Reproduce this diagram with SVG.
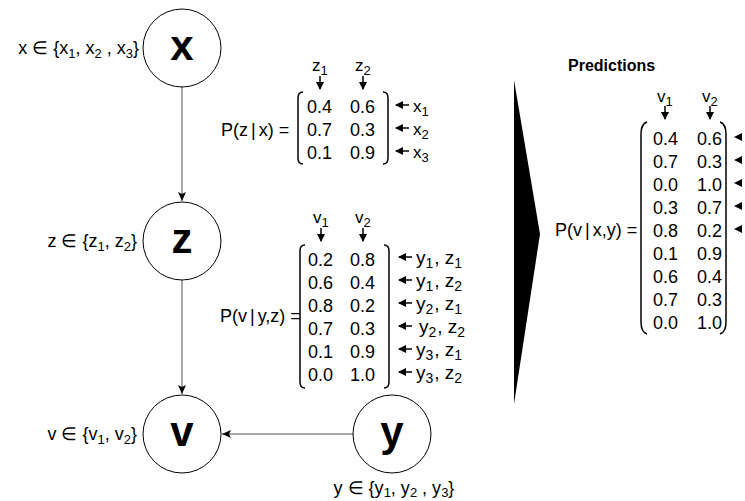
<svg xmlns="http://www.w3.org/2000/svg" width="745" height="501" viewBox="0 0 745 501">
<style>
text{font-family:"Liberation Sans",Arial,sans-serif;fill:#000}
.node{fill:#fff;stroke:#000;stroke-width:1}
.big{font-size:42px;font-weight:bold;text-anchor:middle}
.lbl{font-size:18px}
.yl{font-size:19px}
.hl{font-size:17px}
.num{font-size:18px}
.sub{font-size:13px}
.sub2{font-size:14px}
.br{fill:none;stroke:#000;stroke-width:1.5}
.conn{stroke:#555;stroke-width:1;fill:none}
.sm{stroke:#000;stroke-width:1.5;fill:none}
.title{font-size:16px;font-weight:bold}
</style>
<defs>
<marker id="ah" markerWidth="10" markerHeight="10" refX="9" refY="4" orient="auto" markerUnits="userSpaceOnUse">
<path d="M0,0 L9,4 L0,8 L2,4 Z" fill="#000"/>
</marker>
<marker id="sa" markerWidth="9" markerHeight="9" refX="7" refY="4" orient="auto" markerUnits="userSpaceOnUse">
<path d="M0,0 L8,4 L0,8 Z" fill="#000"/>
</marker>
</defs>

<g id="connectors">
<line class="conn" x1="182" y1="87" x2="182" y2="201" marker-end="url(#ah)"/>
<line class="conn" x1="182" y1="280" x2="182" y2="394" marker-end="url(#ah)"/>
<line class="conn" x1="353" y1="434" x2="222" y2="434" marker-end="url(#ah)"/>
</g>

<g id="node-x">
<circle class="node" cx="182" cy="48" r="39"/>
<text class="big" x="182" y="60">x</text>
<text class="lbl" x="139" y="54" text-anchor="end">x ∈ {x<tspan class="sub" dy="4">1</tspan><tspan dy="-4">, x</tspan><tspan class="sub" dy="4">2</tspan><tspan dy="-4"> , x</tspan><tspan class="sub" dy="4">3</tspan><tspan dy="-4">}</tspan></text>
</g>

<g id="node-z">
<circle class="node" cx="182" cy="241" r="39"/>
<text class="big" x="182" y="253">z</text>
<text class="lbl" x="137" y="247" text-anchor="end">z ∈ {z<tspan class="sub" dy="4">1</tspan><tspan dy="-4">, z</tspan><tspan class="sub" dy="4">2</tspan><tspan dy="-4">}</tspan></text>
</g>

<g id="node-v">
<circle class="node" cx="182" cy="434" r="39"/>
<text class="big" x="182" y="446">v</text>
<text class="lbl" x="137" y="440" text-anchor="end">v ∈ {v<tspan class="sub" dy="4">1</tspan><tspan dy="-4">, v</tspan><tspan class="sub" dy="4">2</tspan><tspan dy="-4">}</tspan></text>
</g>

<g id="node-y">
<circle class="node" cx="392" cy="434" r="39"/>
<text class="big" x="392" y="446">y</text>
<text class="lbl" x="394" y="494" text-anchor="middle">y ∈ {y<tspan class="sub" dy="3">1</tspan><tspan dy="-3">, y</tspan><tspan class="sub" dy="3">2</tspan><tspan dy="-3"> , y</tspan><tspan class="sub" dy="3">3</tspan><tspan dy="-3">}</tspan></text>
</g>

<g id="cpt-zx">
<text class="hl" x="312" y="71">z<tspan class="sub" dy="4">1</tspan></text>
<text class="hl" x="355" y="71">z<tspan class="sub" dy="4">2</tspan></text>
<line class="sm" x1="320" y1="76" x2="320" y2="89" marker-end="url(#sa)"/>
<line class="sm" x1="363" y1="76" x2="363" y2="89" marker-end="url(#sa)"/>
<text class="num" x="221" y="136">P(z<tspan dx="3">|</tspan><tspan dx="3">x) =</tspan></text>
<path class="br" d="M303,92 Q298,92 298,98 L298,158 Q298,164 303,164"/>
<path class="br" d="M383,92 Q388,92 388,98 L388,158 Q388,164 383,164"/>
<text class="num" x="307" y="113">0.4</text><text class="num" x="350" y="113">0.6</text>
<text class="num" x="307" y="136">0.7</text><text class="num" x="350" y="136">0.3</text>
<text class="num" x="307" y="159">0.1</text><text class="num" x="350" y="159">0.9</text>
<line class="sm" x1="409" y1="105" x2="396" y2="105" marker-end="url(#sa)"/>
<line class="sm" x1="409" y1="128" x2="396" y2="128" marker-end="url(#sa)"/>
<line class="sm" x1="409" y1="151" x2="396" y2="151" marker-end="url(#sa)"/>
<text class="hl" x="413" y="112">x<tspan class="sub" dy="4">1</tspan></text>
<text class="hl" x="413" y="135">x<tspan class="sub" dy="4">2</tspan></text>
<text class="hl" x="413" y="158">x<tspan class="sub" dy="4">3</tspan></text>
</g>

<g id="cpt-vyz">
<text class="hl" x="313" y="223">v<tspan class="sub" dy="4">1</tspan></text>
<text class="hl" x="355" y="223">v<tspan class="sub" dy="4">2</tspan></text>
<line class="sm" x1="321" y1="228" x2="321" y2="241" marker-end="url(#sa)"/>
<line class="sm" x1="363" y1="228" x2="363" y2="241" marker-end="url(#sa)"/>
<text class="num" x="220" y="322">P(v<tspan dx="3">|</tspan><tspan dx="3">y,z) =</tspan></text>
<path class="br" d="M305,245 Q300,245 300,251 L300,382 Q300,388 305,388"/>
<path class="br" d="M384,245 Q389,245 389,251 L389,382 Q389,388 384,388"/>
<text class="num" x="308" y="266">0.2</text><text class="num" x="350" y="266">0.8</text>
<text class="num" x="308" y="289">0.6</text><text class="num" x="350" y="289">0.4</text>
<text class="num" x="308" y="312">0.8</text><text class="num" x="350" y="312">0.2</text>
<text class="num" x="308" y="335">0.7</text><text class="num" x="350" y="335">0.3</text>
<text class="num" x="308" y="358">0.1</text><text class="num" x="350" y="358">0.9</text>
<text class="num" x="308" y="381">0.0</text><text class="num" x="350" y="381">1.0</text>
<line class="sm" x1="412" y1="257" x2="399" y2="257" marker-end="url(#sa)"/>
<line class="sm" x1="412" y1="280" x2="399" y2="280" marker-end="url(#sa)"/>
<line class="sm" x1="412" y1="303" x2="399" y2="303" marker-end="url(#sa)"/>
<line class="sm" x1="412" y1="326" x2="399" y2="326" marker-end="url(#sa)"/>
<line class="sm" x1="412" y1="349" x2="399" y2="349" marker-end="url(#sa)"/>
<line class="sm" x1="412" y1="372" x2="399" y2="372" marker-end="url(#sa)"/>
<text class="yl" x="416" y="264">y<tspan class="sub2" dy="4">1</tspan><tspan dy="-4" dx="1">, z</tspan><tspan class="sub2" dy="4">1</tspan></text>
<text class="yl" x="416" y="287">y<tspan class="sub2" dy="4">1</tspan><tspan dy="-4" dx="1">, z</tspan><tspan class="sub2" dy="4">2</tspan></text>
<text class="yl" x="416" y="310">y<tspan class="sub2" dy="4">2</tspan><tspan dy="-4" dx="1">, z</tspan><tspan class="sub2" dy="4">1</tspan></text>
<text class="yl" x="419" y="333">y<tspan class="sub2" dy="4">2</tspan><tspan dy="-4" dx="1">, z</tspan><tspan class="sub2" dy="4">2</tspan></text>
<text class="yl" x="416" y="356">y<tspan class="sub2" dy="4">3</tspan><tspan dy="-4" dx="1">, z</tspan><tspan class="sub2" dy="4">1</tspan></text>
<text class="yl" x="416" y="379">y<tspan class="sub2" dy="4">3</tspan><tspan dy="-4" dx="1">, z</tspan><tspan class="sub2" dy="4">2</tspan></text>
</g>

<g id="transition">
<polygon points="514,80 540,234 514,404" fill="#000"/>
</g>

<g id="predictions">
<text class="title" x="568" y="71">Predictions</text>
<text class="hl" x="657" y="102">v<tspan class="sub" dy="4">1</tspan></text>
<text class="hl" x="702" y="102">v<tspan class="sub" dy="4">2</tspan></text>
<line class="sm" x1="665" y1="106" x2="665" y2="119" marker-end="url(#sa)"/>
<line class="sm" x1="710" y1="106" x2="710" y2="119" marker-end="url(#sa)"/>
<text class="num" x="555" y="236">P(v<tspan dx="3">|</tspan><tspan dx="3">x,y) =</tspan></text>
<path class="br" d="M647,122 Q641,124 641,134 L641,322 Q641,332 647,334"/>
<path class="br" d="M720,122 Q726,124 726,134 L726,322 Q726,332 720,334"/>
<text class="num" x="653" y="145">0.4</text><text class="num" x="697" y="145">0.6</text>
<text class="num" x="653" y="168">0.7</text><text class="num" x="697" y="168">0.3</text>
<text class="num" x="653" y="191">0.0</text><text class="num" x="697" y="191">1.0</text>
<text class="num" x="653" y="214">0.3</text><text class="num" x="697" y="214">0.7</text>
<text class="num" x="653" y="237">0.8</text><text class="num" x="697" y="237">0.2</text>
<text class="num" x="653" y="260">0.1</text><text class="num" x="697" y="260">0.9</text>
<text class="num" x="653" y="283">0.6</text><text class="num" x="697" y="283">0.4</text>
<text class="num" x="653" y="306">0.7</text><text class="num" x="697" y="306">0.3</text>
<text class="num" x="653" y="329">0.0</text><text class="num" x="697" y="329">1.0</text>
<polygon points="734,137 742,133 742,141" fill="#000"/>
<polygon points="734,160 742,156 742,164" fill="#000"/>
<polygon points="734,183 742,179 742,187" fill="#000"/>
<polygon points="734,206 742,202 742,210" fill="#000"/>
<polygon points="734,229 742,225 742,233" fill="#000"/>
</g>
</svg>
